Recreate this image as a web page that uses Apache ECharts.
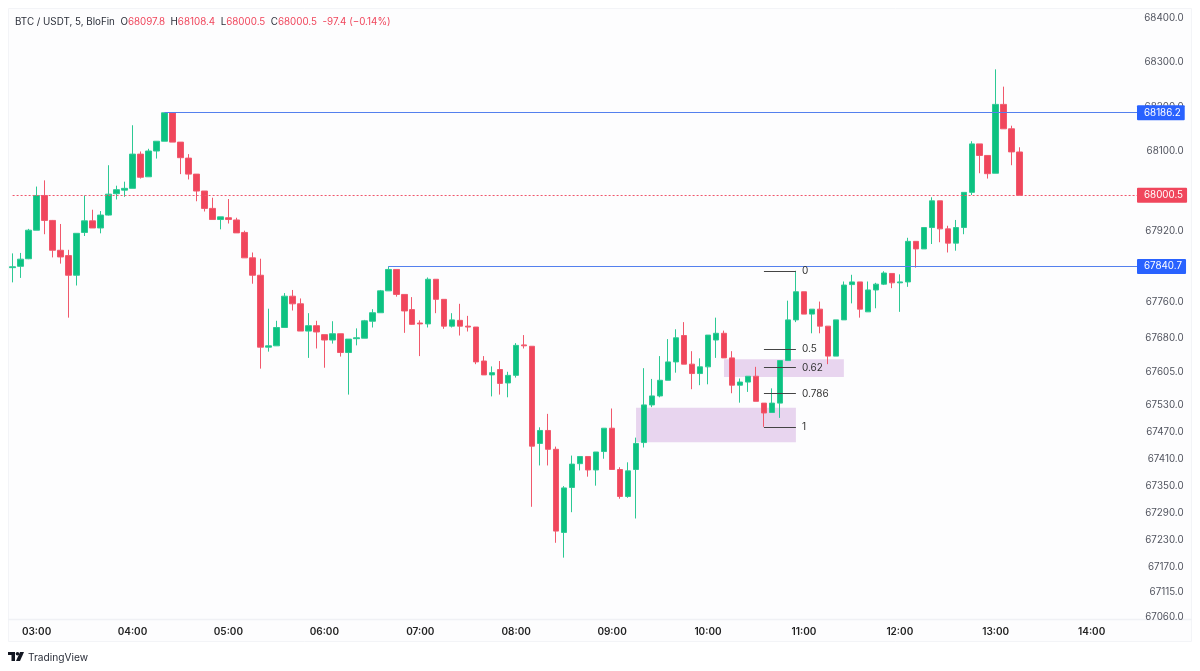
<!DOCTYPE html>
<html>
<head>
<meta charset="utf-8">
<style>html,body{margin:0;padding:0;background:#fff}#c{width:1200px;height:671px}</style>
<script src="https://cdn.jsdelivr.net/npm/echarts@6/dist/echarts.min.js"></script>
</head>
<body>
<div id="c"></div>
<script>
const categories = ['02:45','02:50','02:55','03:00','03:05','03:10','03:15','03:20','03:25','03:30','03:35','03:40','03:45','03:50','03:55',
'04:00','04:05','04:10','04:15','04:20','04:25','04:30','04:35','04:40','04:45','04:50','04:55',
'05:00','05:05','05:10','05:15','05:20','05:25','05:30','05:35','05:40','05:45','05:50','05:55',
'06:00','06:05','06:10','06:15','06:20','06:25','06:30','06:35','06:40','06:45','06:50','06:55',
'07:00','07:05','07:10','07:15','07:20','07:25','07:30','07:35','07:40','07:45','07:50','07:55',
'08:00','08:05','08:10','08:15','08:20','08:25','08:30','08:35','08:40','08:45','08:50','08:55',
'09:00','09:05','09:10','09:15','09:20','09:25','09:30','09:35','09:40','09:45','09:50','09:55',
'10:00','10:05','10:10','10:15','10:20','10:25','10:30','10:35','10:40','10:45','10:50','10:55',
'11:00','11:05','11:10','11:15','11:20','11:25','11:30','11:35','11:40','11:45','11:50','11:55',
'12:00','12:05','12:10','12:15','12:20','12:25','12:30','12:35','12:40','12:45','12:50','12:55',
'13:00','13:05','13:10','13:15','13:20','13:25','13:30','13:35','13:40','13:45','13:50','13:55',
'14:00','14:05','14:10','14:15','14:20','14:25','14:30'];
const timeTicks = ['03:00','04:00','05:00','06:00','07:00','08:00','09:00','10:00','11:00','12:00','13:00','14:00'];
const priceTicks = [68400,68300,68200,68100,67920,67760,67680,67605,67530,67470,67410,67350,67290,67230,67170,67115,67060];

const opens = [67838,67841,67858,67922,68000,67944,67877,67865,67821,67917,67943,67927,67956,68004,68012,68016,68093,68042,68100,68122,68186,68120,68084,68048,68010,67971,67946,67950,67945,67917,67860,67821,
67660,67663,67704,67774,67757,67696,67708,67688,67676,67690,67648,67679,67680,67718,67737,67786,67834,67778,67744,67714,67712,67812,67767,67707,67720,67707,67705,67629,67598,67610,67580,67597,67665,
67662,67445,67474,67432,67247,67347,67400,67416,67386,67427,67479,67387,67327,67387,67447,67531,67551,67586,67627,67686,67622,67601,67616,67676,67691,67636,67575,67582,67595,67535,67514,67535,67630,67721,67784,67734,67745,67707,67640,67721,67800,67806,
67739,67788,67801,67825,67804,67806,67897,67880,67928,67988,67925,67893,67928,68007,68116,68090,68050,68205,68150,68097.8];
const closes = [67840,67857,67922,68000,67944,67877,67862,67821,67915,67943,67927,67956,68003,68013,68016,68093,68041,68100,68122,68186,68120,68085,68048,68010,67971,67946,67952,67946,67916,67860,67821,67660,
67663,67704,67774,67757,67696,67708,67694,67676,67690,67648,67678,67681,67719,67737,67786,67834,67778,67741,67711,67712,67812,67767,67707,67721,67707,67705,67627,67598,67603,67579,67597,67664,67663,
67439,67474,67432,67250,67346,67399,67416,67386,67426,67479,67387,67327,67384,67445,67531,67551,67586,67627,67681,67622,67601,67616,67687,67691,67636,67575,67582,67595,67539,67513,67535,67630,67721,67784,67734,67745,67707,67640,67721,67799,67806,67745,
67788,67801,67826,67804,67806,67897,67880,67928,67988,67925,67893,67928,68007,68116,68090,68049,68205,68150,68098,68000.5];
const highs = [67870,67871,67925,68020,68034,67945,67936,67878,67915,68000,67968,67965,68068,68022,68031,68158,68099,68105,68122,68186.2,68186.2,68120,68093,68048,68010,67995,67952,67992,67950,67921,67872,67858,
67746,67719,67781,67788,67769,67736,67719,67688,67718,67690,67678,67702,67721,67745,67788,67840.7,67834,67778,67772,67720,67816,67812,67767,67736,67757,67730,67705,67640,67617,67629,67605,67669,67687,
67662,67481,67511,67438,67350,67418,67416,67416,67426,67479,67523,67392,67403,67458,67613,67589,67640,67678,67700,67716,67651,67635,67687,67726,67697,67651,67590,67595,67616,67535,67568,67630,67764,67831,67784,67745,67762,67707,67721,67807,67822,67806,
67807,67804,67830,67825,67823,67905,67897,67928,67996,67988,67932,67945,68007,68122,68116,68090,68284,68245,68157,68108.4];
const lows = [67805,67815,67857,67922,67913,67861,67847,67726,67798,67909,67927,67915,67955,67991,67997,68016,68038,68042,68083,68122,68120,68048,68036,67987,67964,67946,67924,67937,67916,67860,67802,67612,
67650,67663,67704,67742,67696,67636,67657,67614,67668,67639,67554,67664,67680,67704,67737,67786,67773,67692,67710,67640,67704,67736,67701,67704,67686,67695,67622,67598,67550,67554,67548,67592,67657,
67304,67396,67396,67224,67191,67292,67385,67371,67351,67411,67387,67322,67324,67278,67436,67526,67548,67586,67603,67622,67566,67575,67577,67636,67636,67557,67536,67560,67539,67482,67514,67502,67630,67716,67734,67691,67691,67622,67640,67721,67758,67726,
67739,67747,67799,67792,67739,67795,67838,67880,67891,67895,67872,67876,67913,68001,68050,68038,68050,68150,68068,68000.5];

const levelTop = 68186.2, levelBottom = 67840.7, lastPrice = 68000.5;
const fibLevels = [0, 0.5, 0.62, 0.786, 1];
const fibPrices = [67830.7, 67656, 67614, 67556, 67482];
const zones = [
  {from:'09:15', to:'10:55', top:67524.5, bottom:67447.6},
  {from:'10:10', to:'11:25', top:67632.8, bottom:67593.2}
];
const RED='#f0465c', GREEN='#0cc281', BLUE='#2962ff', FONT='Inter, "Noto Sans", sans-serif';

const candles = categories.slice(0, opens.length).map((t,i)=>[opens[i],closes[i],lows[i],highs[i]]);
const lastCat = categories[categories.length-1];
const tag = (bg,v)=>({show:true,position:'end',distance:-2.6,color:'#fff',backgroundColor:bg,fontFamily:FONT,fontSize:9.8,
  padding:[3,4,2,7],borderRadius:1,formatter:v.toFixed(1)});

const chart = echarts.init(document.getElementById('c'),null,{renderer:'canvas'});
chart.setOption({
  animation:false,
  backgroundColor:'#fff',
  textStyle:{fontFamily:FONT},
  title:{
    left:15,top:17,padding:0,
    text:'{k|BTC / USDT, 5, BloFin  O}{r|68097.8}{k|  H}{r|68108.4}{k|  L}{r|68000.5}{k|  C}{r|68000.5}{r|  -97.4 (−0.14%)}',
    textStyle:{rich:{
      k:{color:'#2a2e39',fontFamily:FONT,fontSize:9.8,fontWeight:400},
      r:{color:RED,fontFamily:FONT,fontSize:9.8,fontWeight:400}
    }}
  },
  grid:{left:8.6,top:8,width:1135,height:611,containLabel:false},
  xAxis:{type:'category',data:categories,boundaryGap:true,
    axisLine:{show:false},axisTick:{show:false},splitLine:{show:false},
    axisLabel:{interval:(i,v)=>timeTicks.includes(v),color:'#222',fontSize:10,fontWeight:600,fontFamily:FONT,margin:8,hideOverlap:false}
  },
  yAxis:{type:'log',logBase:10,position:'right',min:67054.9,max:68422.6,scale:true,
    axisLine:{show:false},axisTick:{show:false},splitLine:{show:false},minorTick:{show:false},minorSplitLine:{show:false},
    axisLabel:{customValues:priceTicks,align:'right',margin:40,color:'#50535e',fontSize:9.8,fontFamily:FONT,padding:[2,0,0,0],showMinLabel:true,showMaxLabel:true,hideOverlap:false,
      formatter:v=>Number(v).toFixed(1)}
  },
  series:[
    {type:'line',name:'drawings',data:[],z:1,showSymbol:false,silent:true,
      markArea:{silent:true,itemStyle:{color:'#e8d5ef',opacity:1},
        data:zones.map(z=>[{xAxis:z.from,yAxis:z.top},{xAxis:z.to,yAxis:z.bottom}])},
      markLine:{silent:true,symbol:'none',animation:false,precision:1,
        data:[
          [{xAxis:categories[19],yAxis:levelTop,lineStyle:{color:'#5480ee',width:1.2,type:'solid'},label:tag(BLUE,levelTop)},{xAxis:lastCat,yAxis:levelTop}],
          [{xAxis:categories[47],yAxis:levelBottom,lineStyle:{color:'#5480ee',width:1.2,type:'solid'},label:tag(BLUE,levelBottom)},{xAxis:lastCat,yAxis:levelBottom}],
          [{xAxis:categories[0],yAxis:lastPrice,lineStyle:{color:'#f0566c',width:1,type:[2,2]},label:tag(RED,lastPrice)},{xAxis:lastCat,yAxis:lastPrice}],
          ...fibPrices.map((p,i)=>[{xAxis:categories[94],yAxis:p,lineStyle:{color:'#444',width:1.2,type:'solid'},
             label:{show:true,position:'end',distance:6,color:'#333',fontSize:10,fontFamily:FONT,formatter:String(fibLevels[i])}},{xAxis:categories[98],yAxis:p}])
        ]}
    },
    {type:'candlestick',name:'BTC / USDT',z:2,data:candles,barWidth:6,clip:false,
      itemStyle:{color:GREEN,color0:RED,borderColor:'#2cc994',borderColor0:'#f1586c',borderWidth:1}}
  ],
  graphic:[
    {type:'rect',z:-10,silent:true,shape:{x:8.5,y:8.5,width:1183,height:633},style:{fill:'#fdfdfe',stroke:'#f3f4f7',lineWidth:1}},
    {type:'line',z:-9,silent:true,shape:{x1:8,y1:619.5,x2:1192,y2:619.5},style:{stroke:'#f0f1f5',lineWidth:1.5}},
    {type:'rect',silent:true,shape:{x:8,y:652,width:7,height:3},style:{fill:'#131722'}},
    {type:'rect',silent:true,shape:{x:11.5,y:652,width:3.5,height:9},style:{fill:'#131722'}},
    {type:'circle',silent:true,shape:{cx:17.5,cy:653.8,r:1.8},style:{fill:'#131722'}},
    {type:'polygon',silent:true,shape:{points:[[20,652],[24,652],[20,661],[16,661]]},style:{fill:'#131722'}},
    {type:'text',silent:true,style:{x:28,y:657.5,text:'TradingView',fill:'#2a2e39',font:'10.2px '+FONT,textVerticalAlign:'middle'}}
  ]
});
</script>
</body>
</html>
